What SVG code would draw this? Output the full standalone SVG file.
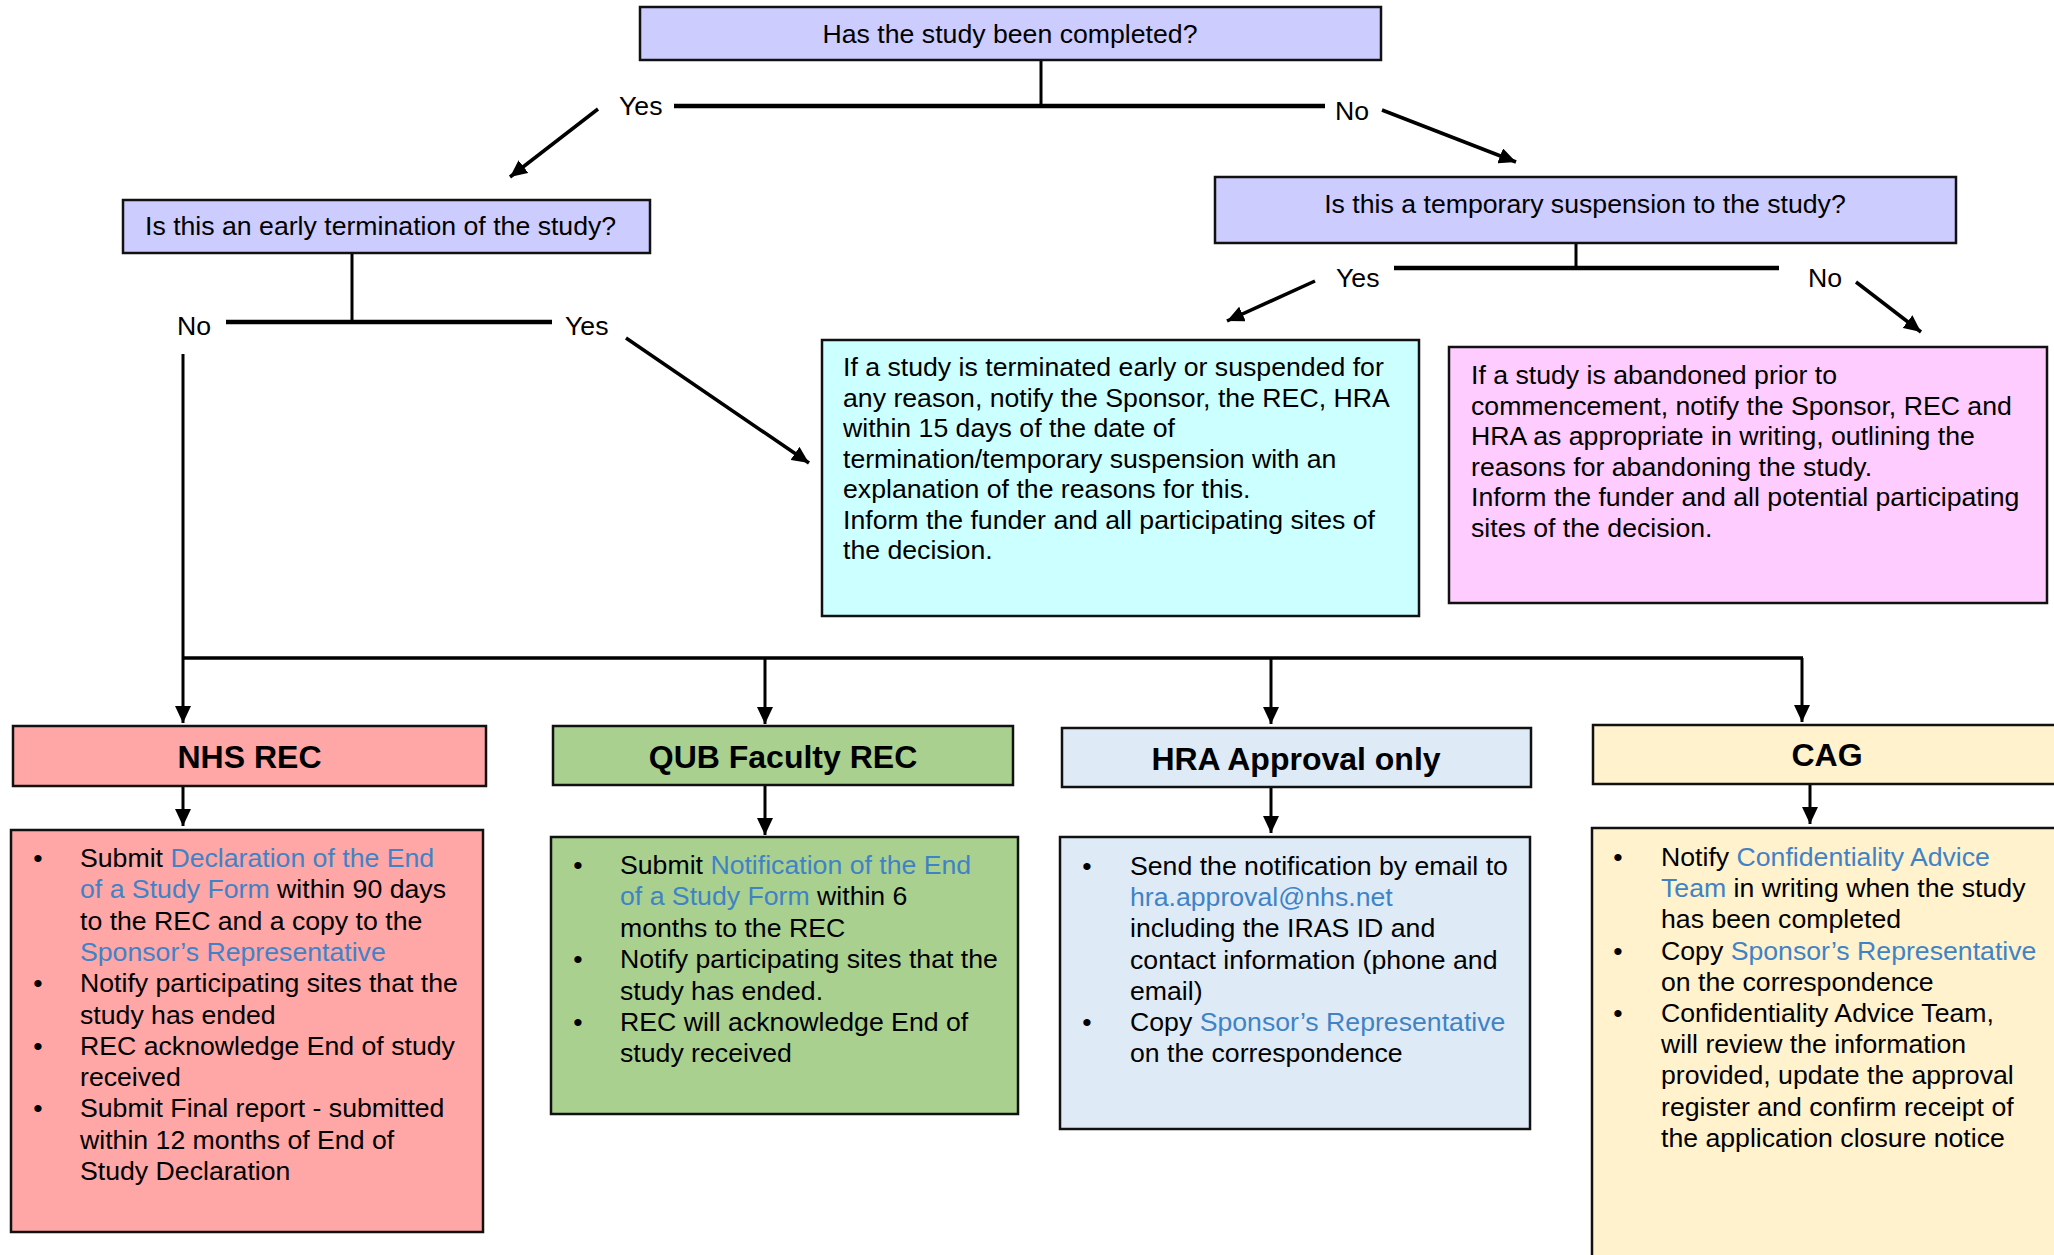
<svg xmlns="http://www.w3.org/2000/svg" width="2054" height="1255" viewBox="0 0 2054 1255">
<style>
text{font-family:"Liberation Sans",Arial,sans-serif;font-size:26.67px;fill:#000}
.h{font-weight:bold;font-size:32px;text-anchor:middle}
.c{text-anchor:middle}
.b{text-anchor:middle}
.lk{fill:#3F83C6}
.box{stroke:#111;stroke-width:2.5}
.q{fill:#CCCCFF}
.ln{stroke:#000;fill:none}
</style>
<defs>
<marker id="ah" markerUnits="userSpaceOnUse" markerWidth="18" markerHeight="16" refX="17" refY="8" orient="auto">
<path d="M0,0 L17,8 L0,16 z" fill="#000"/>
</marker>
</defs>
<g id="connectors">
<line class="ln" x1="1041" y1="60" x2="1041" y2="106" stroke-width="3"/>
<line class="ln" x1="674" y1="106" x2="1325" y2="106" stroke-width="4.5"/>
<line class="ln" x1="598" y1="109" x2="510" y2="177" stroke-width="3.5" marker-end="url(#ah)"/>
<line class="ln" x1="1382" y1="110" x2="1516" y2="162" stroke-width="3.5" marker-end="url(#ah)"/>
<line class="ln" x1="352" y1="253" x2="352" y2="322" stroke-width="3"/>
<line class="ln" x1="226" y1="322" x2="552" y2="322" stroke-width="4.5"/>
<line class="ln" x1="626" y1="338" x2="809" y2="463" stroke-width="3.5" marker-end="url(#ah)"/>
<line class="ln" x1="1576" y1="243" x2="1576" y2="268" stroke-width="3"/>
<line class="ln" x1="1394" y1="268" x2="1779" y2="268" stroke-width="4.5"/>
<line class="ln" x1="1315" y1="281" x2="1227" y2="321" stroke-width="3.5" marker-end="url(#ah)"/>
<line class="ln" x1="1856" y1="282" x2="1921" y2="332" stroke-width="3.5" marker-end="url(#ah)"/>
<line class="ln" x1="183" y1="354" x2="183" y2="723" stroke-width="3" marker-end="url(#ah)"/>
<line class="ln" x1="182" y1="658" x2="1803" y2="658" stroke-width="3.5"/>
<line class="ln" x1="765" y1="658" x2="765" y2="724" stroke-width="3" marker-end="url(#ah)"/>
<line class="ln" x1="1271" y1="658" x2="1271" y2="724" stroke-width="3" marker-end="url(#ah)"/>
<line class="ln" x1="1802" y1="658" x2="1802" y2="722" stroke-width="3" marker-end="url(#ah)"/>
<line class="ln" x1="183" y1="786" x2="183" y2="826" stroke-width="3" marker-end="url(#ah)"/>
<line class="ln" x1="765" y1="785" x2="765" y2="835" stroke-width="3" marker-end="url(#ah)"/>
<line class="ln" x1="1271" y1="787" x2="1271" y2="833" stroke-width="3" marker-end="url(#ah)"/>
<line class="ln" x1="1810" y1="784" x2="1810" y2="824" stroke-width="3" marker-end="url(#ah)"/>
<text x="619" y="115">Yes</text>
<text x="1335" y="120">No</text>
<text x="177" y="335">No</text>
<text x="565" y="335">Yes</text>
<text x="1336" y="287">Yes</text>
<text x="1808" y="287">No</text>
</g>
<g id="q-completed">
<rect class="box q" x="640" y="7" width="741" height="53"/>
<text class="c" x="1010" y="43">Has the study been completed?</text>
</g>
<g id="q-early">
<rect class="box q" x="123" y="200" width="527" height="53"/>
<text x="145" y="235">Is this an early termination of the study?</text>
</g>
<g id="q-temporary">
<rect class="box q" x="1215" y="177" width="741" height="66"/>
<text class="c" x="1585" y="213">Is this a temporary suspension to the study?</text>
</g>
<g id="terminated">
<rect class="box" fill="#CCFFFF" x="822" y="340" width="597" height="276"/>
<text x="843" y="376">If a study is terminated early or suspended for</text>
<text x="843" y="406.5">any reason, notify the Sponsor, the REC, HRA</text>
<text x="843" y="437">within 15 days of the date of</text>
<text x="843" y="467.5">termination/temporary suspension with an</text>
<text x="843" y="498">explanation of the reasons for this.</text>
<text x="843" y="528.5">Inform the funder and all participating sites of</text>
<text x="843" y="559">the decision.</text>
</g>
<g id="abandoned">
<rect class="box" fill="#FFCCFF" x="1449" y="347" width="598" height="256"/>
<text x="1471" y="384">If a study is abandoned prior to</text>
<text x="1471" y="414.6">commencement, notify the Sponsor, REC and</text>
<text x="1471" y="445.2">HRA as appropriate in writing, outlining the</text>
<text x="1471" y="475.8">reasons for abandoning the study.</text>
<text x="1471" y="506.4">Inform the funder and all potential participating</text>
<text x="1471" y="537">sites of the decision.</text>
</g>
<g id="nhs-rec">
<rect class="box" fill="#FFA6A6" x="13" y="726" width="473" height="60"/>
<text class="h" x="249.5" y="768">NHS REC</text>
</g>
<g id="nhs-rec-steps">
<rect class="box" fill="#FFA6A6" x="11" y="830" width="472" height="402"/>
<text class="b" x="38" y="867">•</text>
<text x="80" y="867">Submit <tspan class="lk">Declaration of the End</tspan></text>
<text x="80" y="898.3"><tspan class="lk">of a Study Form</tspan> within 90 days</text>
<text x="80" y="929.6">to the REC and a copy to the</text>
<text x="80" y="960.9" class="lk">Sponsor’s Representative</text>
<text class="b" x="38" y="992.2">•</text>
<text x="80" y="992.2">Notify participating sites that the</text>
<text x="80" y="1023.5">study has ended</text>
<text class="b" x="38" y="1054.8">•</text>
<text x="80" y="1054.8">REC acknowledge End of study</text>
<text x="80" y="1086.1">received</text>
<text class="b" x="38" y="1117.4">•</text>
<text x="80" y="1117.4">Submit Final report - submitted</text>
<text x="80" y="1148.7">within 12 months of End of</text>
<text x="80" y="1180">Study Declaration</text>
</g>
<g id="qub-rec">
<rect class="box" fill="#A9D08E" x="553" y="726" width="460" height="59"/>
<text class="h" x="783" y="768">QUB Faculty REC</text>
</g>
<g id="qub-rec-steps">
<rect class="box" fill="#A9D08E" x="551" y="837" width="467" height="277"/>
<text class="b" x="578" y="874">•</text>
<text x="620" y="874">Submit <tspan class="lk">Notification of the End</tspan></text>
<text x="620" y="905.4"><tspan class="lk">of a Study Form</tspan> within 6</text>
<text x="620" y="936.8">months to the REC</text>
<text class="b" x="578" y="968.2">•</text>
<text x="620" y="968.2">Notify participating sites that the</text>
<text x="620" y="999.6">study has ended.</text>
<text class="b" x="578" y="1031">•</text>
<text x="620" y="1031">REC will acknowledge End of</text>
<text x="620" y="1062.4">study received</text>
</g>
<g id="hra">
<rect class="box" fill="#DEEBF7" x="1062" y="728" width="469" height="59"/>
<text class="h" x="1296" y="770">HRA Approval only</text>
</g>
<g id="hra-steps">
<rect class="box" fill="#DEEBF7" x="1060" y="837" width="470" height="292"/>
<text class="b" x="1087" y="875">•</text>
<text x="1130" y="875">Send the notification by email to</text>
<text x="1130" y="906.2" class="lk">hra.approval@nhs.net</text>
<text x="1130" y="937.4">including the IRAS ID and</text>
<text x="1130" y="968.6">contact information (phone and</text>
<text x="1130" y="999.8">email)</text>
<text class="b" x="1087" y="1031">•</text>
<text x="1130" y="1031">Copy <tspan class="lk">Sponsor’s Representative</tspan></text>
<text x="1130" y="1062.2">on the correspondence</text>
</g>
<g id="cag">
<rect class="box" fill="#FFF2CC" x="1593" y="725" width="480" height="59"/>
<text class="h" x="1827" y="766">CAG</text>
</g>
<g id="cag-steps">
<rect class="box" fill="#FFF2CC" x="1592" y="828" width="480" height="450"/>
<text class="b" x="1618" y="866">•</text>
<text x="1661" y="866">Notify <tspan class="lk">Confidentiality Advice</tspan></text>
<text x="1661" y="897.2"><tspan class="lk">Team</tspan> in writing when the study</text>
<text x="1661" y="928.4">has been completed</text>
<text class="b" x="1618" y="959.6">•</text>
<text x="1661" y="959.6">Copy <tspan class="lk">Sponsor’s Representative</tspan></text>
<text x="1661" y="990.8">on the correspondence</text>
<text class="b" x="1618" y="1022">•</text>
<text x="1661" y="1022">Confidentiality Advice Team,</text>
<text x="1661" y="1053.2">will review the information</text>
<text x="1661" y="1084.4">provided, update the approval</text>
<text x="1661" y="1115.6">register and confirm receipt of</text>
<text x="1661" y="1146.8">the application closure notice</text>
</g>
</svg>
